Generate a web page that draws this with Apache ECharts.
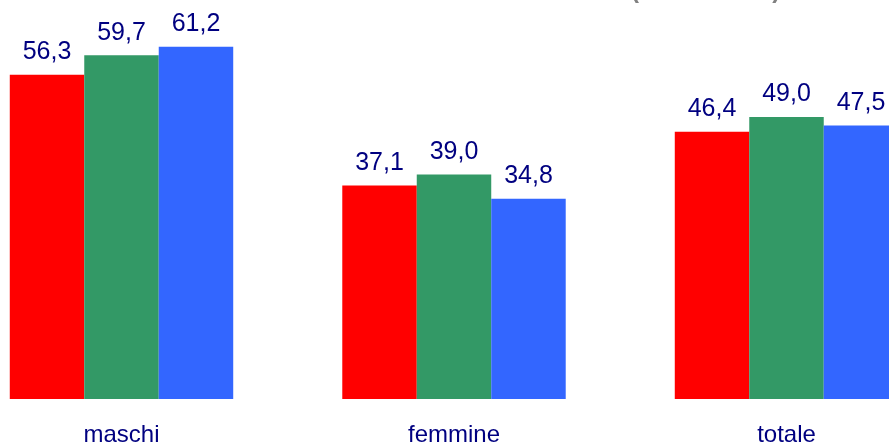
<!DOCTYPE html>
<html><head><meta charset="utf-8">
<script src="https://cdn.jsdelivr.net/npm/echarts@6/dist/echarts.min.js"></script>
<style>html,body{margin:0;padding:0;background:#fff}#c{width:889px;height:447px}</style>
</head><body><div id="c"></div>
<script>
const categories = ['maschi', 'femmine', 'totale'];
const series1 = [56.3, 37.1, 46.4];
const series2 = [59.7, 39.0, 49.0];
const series3 = [61.2, 34.8, 47.5];
const colors = ['#FF0000', '#339966', '#3366FF'];
const fmt = p => p.value.toFixed(1).replace('.', ',');
const lbl = {show: true, position: 'top', distance: 10, color: '#000080', fontFamily: 'Liberation Sans, Arial, sans-serif', fontSize: 25, formatter: fmt};
const mk = (data, i) => ({type: 'bar', data, barGap: '0%', barCategoryGap: '32.8%', itemStyle: {color: colors[i]}, label: lbl, silent: true, animation: false});
const chart = echarts.init(document.getElementById('c'));
chart.setOption({
  animation: false,
  title: {text: '(                    )', left: 626, top: -26, textStyle: {color: '#808080', fontSize: 24, fontWeight: 'bold', fontFamily: 'Liberation Sans, Arial, sans-serif'}},
  grid: {left: -44.75, right: -63.75, top: -4, bottom: 48, containLabel: false, outerBoundsMode: 'none'},
  xAxis: {type: 'category', data: categories, axisLine: {show: false}, axisTick: {show: false},
    axisLabel: {color: '#000080', fontSize: 24, fontFamily: 'Liberation Sans, Arial, sans-serif', margin: 24}},
  yAxis: {type: 'value', min: 0, max: 70, show: false, splitLine: {show: false}},
  series: [mk(series1, 0), mk(series2, 1), mk(series3, 2)]
});
</script></body></html>
